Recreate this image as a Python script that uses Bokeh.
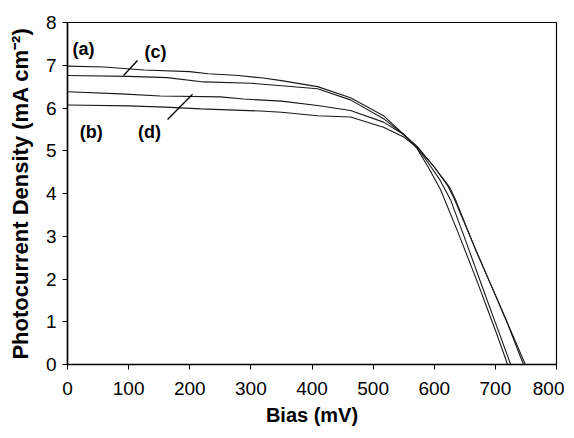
from bokeh.plotting import figure
from bokeh.models import Range1d, FixedTicker, Label
from bokeh.embed import file_html
from bokeh.resources import INLINE

# ---- data ----
bias_a = [0, 60, 125, 200, 230, 280, 320, 350, 409, 463, 517, 550, 572, 590, 610, 640, 670, 700, 720]
j_a = [6.98, 6.96, 6.89, 6.85, 6.80, 6.76, 6.70, 6.64, 6.50, 6.24, 5.82, 5.38, 5.05, 4.62, 4.10, 3.05, 1.95, 0.80, 0.0]

bias_c = [0, 100, 163, 223, 300, 350, 409, 463, 517, 550, 572, 590, 610, 627, 650, 680, 700, 725]
j_c = [6.76, 6.74, 6.71, 6.61, 6.58, 6.52, 6.45, 6.19, 5.75, 5.38, 5.08, 4.72, 4.30, 3.84, 2.95, 1.76, 0.98, 0.0]

bias_d = [0, 87, 152, 250, 288, 350, 409, 463, 517, 550, 572, 600, 622, 632, 660, 690, 720, 746]
j_d = [6.38, 6.33, 6.28, 6.26, 6.21, 6.16, 6.06, 5.94, 5.67, 5.38, 5.10, 4.62, 4.18, 3.90, 2.95, 1.95, 0.95, 0.0]

bias_b = [0, 100, 160, 218, 316, 350, 409, 463, 517, 550, 572, 600, 625, 635, 668, 704, 749]
j_b = [6.07, 6.05, 6.02, 5.98, 5.93, 5.90, 5.82, 5.79, 5.55, 5.32, 5.08, 4.62, 4.15, 3.85, 2.67, 1.50, 0.0]

x_ticks = [0, 100, 200, 300, 400, 500, 600, 700, 800]
y_ticks = [0, 1, 2, 3, 4, 5, 6, 7, 8]

curve_labels = ["(a)", "(b)", "(c)", "(d)"]

FONT = "Liberation Sans"

p = figure(frame_width=489, frame_height=342, output_backend="svg", toolbar_location=None,
           x_range=Range1d(0, 800), y_range=Range1d(0, 8),
           min_border_left=67, min_border_right=8, min_border_top=22, min_border_bottom=56)

p.xgrid.visible = False
p.ygrid.visible = False
p.outline_line_color = "black"
p.outline_line_width = 1.2
p.background_fill_color = "white"
p.border_fill_color = "white"

for ax in (p.xaxis[0], p.yaxis[0]):
    ax.axis_line_color = "black"
    ax.axis_line_width = 1.5
    ax.major_tick_line_color = "black"
    ax.major_tick_out = 5
    ax.major_tick_in = 0
    ax.minor_tick_line_color = None
    ax.major_label_text_font = FONT
    ax.major_label_text_font_size = "19px"
    ax.major_label_text_color = "black"
    ax.axis_label_text_font = FONT
    ax.axis_label_text_font_style = "bold"
    ax.axis_label_text_color = "black"

p.xaxis.ticker = FixedTicker(ticks=x_ticks)
p.yaxis.ticker = FixedTicker(ticks=y_ticks)
p.xaxis.axis_label = "Bias (mV)"
p.yaxis.axis_label = "Photocurrent Density (mA cm\u207b\u00b2)"
p.xaxis.axis_label_text_font_size = "20px"
p.yaxis.axis_label_text_font_size = "22px"
p.xaxis.major_label_standoff = 12
p.xaxis.axis_label_standoff = 6
p.yaxis.major_label_standoff = 6
p.yaxis.axis_label_standoff = 10

for xs, ys in ((bias_a, j_a), (bias_c, j_c), (bias_d, j_d), (bias_b, j_b)):
    p.line(xs, ys, line_color="#1a1a1a", line_width=1.1)

# annotations
label_pos = {"(a)": (26, 7.37), "(b)": (39, 5.45), "(c)": (144, 7.32), "(d)": (134, 5.45)}
for t in curve_labels:
    x, y = label_pos[t]
    p.add_layout(Label(x=x, y=y, text=t, text_font=FONT, text_font_size="18px",
                       text_font_style="bold", text_color="black",
                       text_align="center", text_baseline="middle"))

p.segment(x0=[114.6, 204.6], y0=[7.11, 6.32], x1=[91.7, 163.7], y1=[6.76, 5.73],
          line_color="black", line_width=1.3)

open("out.html", "w").write(file_html(p, INLINE))
